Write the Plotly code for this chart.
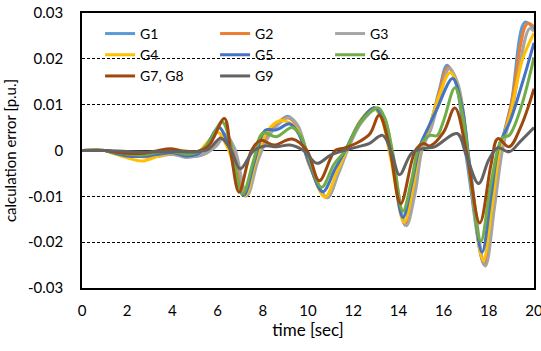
import plotly.graph_objects as go

# ---------------- data ----------------
names = ["G1", "G2", "G3", "G4", "G5", "G6", "G7, G8", "G9"]
colors = ["#5B9BD5", "#ED7D31", "#A5A5A5", "#FFC000", "#4472C4", "#70AD47", "#9E480E", "#636363"]

t_g1 = [0, 1.0, 1.5, 2.2, 3.0, 3.7, 4.4, 5.0, 5.5, 5.9, 6.3, 6.7, 7.25, 7.75, 8.2, 8.6, 9.1, 9.5, 10.05, 10.85, 11.3, 11.7, 12.3, 12.95, 13.3, 13.7, 14.3, 14.7, 15.0, 15.4, 15.8, 16.15, 16.55, 17.05, 17.8, 18.2, 18.55, 19.0, 19.6, 20.0]
v_g1 = [0, 0, -0.0004, -0.0010, -0.0011, -0.0007, -0.0011, -0.0013, -0.0006, 0.0012, 0.0035, 0.0005, -0.0098, -0.002, 0.003, 0.0055, 0.0075, 0.0055, -0.003, -0.0103, -0.005, 0.0, 0.0062, 0.0093, 0.0072, -0.0015, -0.0163, -0.009, 0.0005, 0.0055, 0.013, 0.0186, 0.0145, -0.003, -0.025, -0.012, 0.001, 0.0105, 0.028, 0.0265]

t_g2 = [0, 1.0, 1.5, 2.3, 3.1, 3.8, 4.5, 5.0, 5.5, 5.9, 6.3, 6.7, 7.25, 7.75, 8.2, 8.6, 9.05, 9.5, 10.05, 10.8, 11.3, 11.7, 12.3, 12.95, 13.3, 13.7, 14.3, 14.7, 15.0, 15.4, 15.8, 16.2, 16.6, 17.1, 17.8, 18.2, 18.55, 19.0, 19.7, 20.0]
v_g2 = [0, 0, -0.0003, -0.0010, -0.0015, -0.0006, -0.0010, -0.0012, -0.0005, 0.0012, 0.0035, 0.0005, -0.0099, -0.002, 0.0032, 0.0057, 0.0072, 0.0055, -0.003, -0.0101, -0.005, 0.0, 0.0062, 0.0093, 0.0072, -0.0015, -0.0161, -0.009, 0.0003, 0.005, 0.0125, 0.0182, 0.0145, -0.003, -0.0248, -0.0125, 0.0005, 0.010, 0.0277, 0.027]

t_g3 = [0, 1.0, 1.5, 2.5, 3.3, 4.0, 4.6, 5.1, 5.5, 5.95, 6.35, 6.75, 7.3, 7.8, 8.25, 8.65, 9.15, 9.55, 10.1, 10.85, 11.35, 11.75, 12.35, 13.05, 13.4, 13.75, 14.35, 14.75, 15.05, 15.45, 15.85, 16.25, 16.65, 17.15, 17.85, 18.25, 18.6, 19.05, 19.8, 20.0]
v_g3 = [0, 0, -0.0003, -0.0009, -0.0013, -0.0008, -0.0015, -0.0012, -0.0006, 0.001, 0.0033, 0.0005, -0.0098, -0.002, 0.003, 0.0055, 0.0072, 0.0055, -0.003, -0.0103, -0.005, 0.0, 0.006, 0.009, 0.007, -0.0015, -0.0164, -0.009, 0.0002, 0.0048, 0.012, 0.0179, 0.0143, -0.003, -0.0252, -0.0125, 0.0, 0.0095, 0.0266, 0.026]

t_g4 = [0, 1.0, 1.3, 2.0, 2.7, 3.4, 4.0, 4.6, 5.1, 5.5, 6.0, 6.45, 7.2, 7.7, 8.2, 8.75, 9.2, 9.6, 10.0, 10.75, 11.25, 11.7, 12.3, 12.9, 13.25, 13.65, 14.25, 14.65, 14.95, 15.35, 15.8, 16.3, 16.7, 17.15, 17.75, 18.15, 18.5, 18.95, 19.5, 20.0]
v_g4 = [0, 0, -0.0005, -0.0016, -0.0023, -0.0012, -0.0006, -0.0011, -0.0006, 0.0015, 0.004, 0.0005, -0.0099, -0.002, 0.0042, 0.0065, 0.006, 0.004, -0.002, -0.0102, -0.005, 0.0, 0.0064, 0.0092, 0.007, -0.0015, -0.0157, -0.008, 0.0005, 0.005, 0.012, 0.017, 0.0125, -0.004, -0.024, -0.012, 0.0005, 0.008, 0.020, 0.0256]

t_g5 = [0, 1.0, 1.3, 2.0, 2.6, 3.3, 4.0, 4.6, 5.1, 5.5, 6.05, 6.5, 7.15, 7.65, 8.1, 8.6, 9.2, 9.6, 10.0, 10.65, 11.2, 11.65, 12.3, 12.95, 13.3, 13.7, 14.2, 14.6, 14.95, 15.3, 15.7, 16.4, 16.8, 17.15, 17.7, 18.1, 18.45, 18.95, 19.5, 20.0]
v_g5 = [0, 0, -0.0004, -0.0012, -0.0013, -0.0009, -0.0005, -0.0012, -0.0008, 0.001, 0.005, 0.001, -0.0098, -0.002, 0.0044, 0.0045, 0.0058, 0.0035, -0.002, -0.009, -0.004, 0.0, 0.0062, 0.0093, 0.0068, -0.0015, -0.0146, -0.007, 0.001, 0.0048, 0.009, 0.0157, 0.010, -0.003, -0.0222, -0.010, 0.001, 0.0065, 0.015, 0.0235]

t_g6 = [0, 1.0, 1.3, 2.0, 2.7, 3.4, 4.0, 4.6, 5.1, 5.55, 6.2, 6.55, 7.1, 7.6, 8.0, 8.6, 9.3, 9.7, 10.0, 10.6, 11.15, 11.65, 12.3, 13.1, 13.4, 13.75, 14.2, 14.6, 14.9, 15.4, 15.7, 16.0, 16.5, 16.85, 17.2, 17.65, 18.1, 18.6, 18.9, 19.4, 20.0]
v_g6 = [0, 0, -0.0003, -0.0008, -0.0010, -0.0004, -0.0002, -0.0008, -0.0004, 0.0012, 0.0062, 0.002, -0.0095, -0.002, 0.0038, 0.003, 0.005, 0.003, -0.001, -0.008, -0.003, 0.0, 0.006, 0.0093, 0.007, -0.0005, -0.0132, -0.006, 0.0005, 0.0033, 0.0032, 0.0065, 0.0137, 0.0075, -0.006, -0.0198, -0.007, 0.0028, 0.0033, 0.009, 0.0203]

t_g78 = [0, 1.0, 1.3, 2.0, 2.7, 3.3, 3.9, 4.5, 5.1, 5.6, 6.3, 6.6, 6.95, 7.5, 7.9, 8.5, 9.3, 9.95, 10.5, 11.2, 11.6, 12.3, 12.75, 13.15, 13.6, 14.1, 14.75, 15.1, 15.4, 16.0, 16.5, 17.0, 17.6, 18.1, 18.4, 18.9, 19.4, 20.0]
v_g78 = [0, 0, -0.0002, -0.0006, -0.0006, -0.0001, 0.0004, -0.0001, -0.0002, 0.001, 0.007, -0.001, -0.0091, 0.0, 0.0022, 0.0012, 0.0025, 0.0, -0.0066, 0.0, 0.0005, 0.002, 0.0037, 0.0077, 0.001, -0.0116, 0.0, 0.0015, 0.001, 0.004, 0.0093, 0.0, -0.0158, -0.003, 0.0026, 0.0008, 0.005, 0.0135]

t_g9 = [0, 1.0, 2.0, 3.0, 4.0, 5.0, 5.6, 6.15, 6.6, 7.0, 7.6, 8.1, 8.6, 9.2, 9.8, 10.4, 11.0, 11.6, 12.2, 12.7, 13.3, 13.7, 14.05, 14.6, 15.2, 15.6, 16.6, 17.0, 17.55, 18.0, 18.4, 18.9, 19.4, 20.0]
v_g9 = [0, 0, -0.0002, -0.0003, -0.0002, -0.0003, 0.0003, 0.0027, 0.0, -0.004, 0.0, 0.001, 0.0008, 0.0012, 0.0, -0.0028, -0.001, 0.0, 0.0008, 0.0015, 0.0033, -0.0005, -0.0053, -0.0005, 0.0005, 0.0008, 0.0037, -0.001, -0.0072, -0.002, 0.0006, -0.0003, 0.002, 0.005]

series_t = [t_g1, t_g2, t_g3, t_g4, t_g5, t_g6, t_g78, t_g9]
series_v = [v_g1, v_g2, v_g3, v_g4, v_g5, v_g6, v_g78, v_g9]

x_ticks = [0, 2, 4, 6, 8, 10, 12, 14, 16, 18, 20]
y_ticks = [-0.03, -0.02, -0.01, 0, 0.01, 0.02, 0.03]
y_tick_text = ["-0.03", "-0.02", "-0.01", "0", "0.01", "0.02", "0.03"]

FONT = "Lato, 'Open Sans', sans-serif"

fig = go.Figure()
for name, col, tt, vv in zip(names, colors, series_t, series_v):
    fig.add_trace(go.Scatter(
        x=tt, y=vv, name=name, mode="lines",
        line=dict(color=col, width=3, shape="spline", smoothing=1.0),
    ))

# white legend box: hides the gridline behind the legend, below the curves
fig.add_shape(
    type="rect", xref="paper", yref="paper",
    x0=0.022, x1=0.88, y0=0.73, y1=0.985,
    fillcolor="white", line=dict(width=0), layer="between",
)

fig.update_layout(
    width=541, height=351,
    margin=dict(l=82, r=7, t=13, b=63, autoexpand=False),
    paper_bgcolor="white", plot_bgcolor="white",
    font=dict(family=FONT, size=15, color="black"),
    showlegend=True,
    legend=dict(
        orientation="h", x=0.04, y=0.982, xanchor="left", yanchor="top",
        bgcolor="rgba(0,0,0,0)", borderwidth=0,
        font=dict(family=FONT, size=14, color="black"),
        entrywidth=70, entrywidthmode="pixels",
        traceorder="normal",
    ),
    xaxis=dict(
        range=[0, 20], tickvals=x_ticks, showgrid=False, zeroline=False,
        showline=True, linecolor="black", linewidth=1.5, mirror=True,
        ticks="", ticklabelstandoff=8, automargin=False,
        ticklabeloverflow="allow",
        title=dict(text="time [sec]", standoff=6, font=dict(size=17)),
        tickfont=dict(size=15),
    ),
    yaxis=dict(
        range=[-0.03, 0.03], tickvals=y_ticks, ticktext=y_tick_text,
        showgrid=True, gridcolor="black", gridwidth=1, griddash="3px,2px",
        zeroline=True, zerolinecolor="black", zerolinewidth=1.2,
        showline=True, linecolor="black", linewidth=1.5, mirror=True,
        ticks="", ticklabelstandoff=14, automargin=False,
        title=dict(text="calculation error [p.u.]", standoff=8, font=dict(size=15)),
        tickfont=dict(size=15),
    ),
)

fig.write_html(
    "out.html",
    config={"displayModeBar": False},
    post_script="document.body.style.margin='0px';document.body.style.overflow='hidden';",
)
